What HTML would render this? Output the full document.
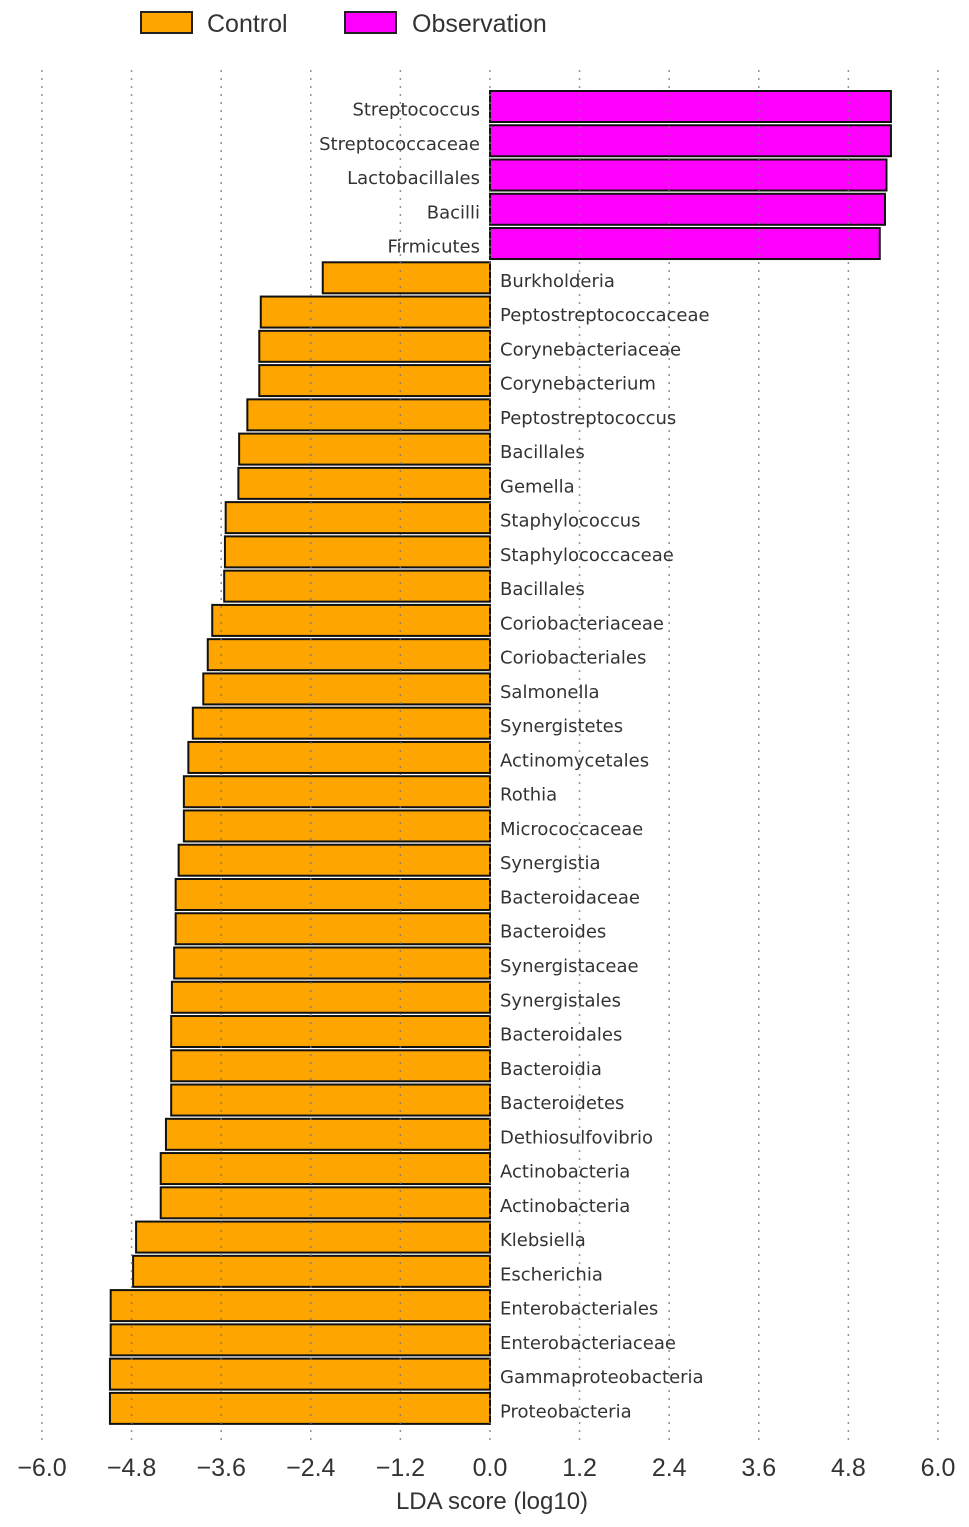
<!DOCTYPE html>
<html><head><meta charset="utf-8"><style>
body{margin:0;background:#fff;}
svg{display:block;}
</style></head><body>
<svg id="chart" width="969" height="1527" viewBox="0 0 969 1527" xmlns="http://www.w3.org/2000/svg">
<g id="legend">
<g>
<rect x="141" y="12" width="51" height="21" fill="#ffa500" stroke="#222" stroke-width="2"/>
<text x="207" y="32" font-family="Liberation Sans, sans-serif" font-size="25" fill="#333">Control</text></g>
<g>
<rect x="345" y="12" width="51" height="21" fill="#ff00ff" stroke="#222" stroke-width="2"/>
<text x="412" y="32" font-family="Liberation Sans, sans-serif" font-size="25" fill="#333">Observation</text></g>
</g>
<g id="bars"></g>
<g id="grid"></g>
<g id="labels"></g>
<g id="xaxis"></g>
<text x="492" y="1509" text-anchor="middle" font-family="Liberation Sans, sans-serif" font-size="24" fill="#333">LDA score (log10)</text>
</svg>
<script>
const categories=["Streptococcus","Streptococcaceae","Lactobacillales","Bacilli","Firmicutes","Burkholderia","Peptostreptococcaceae","Corynebacteriaceae","Corynebacterium","Peptostreptococcus","Bacillales","Gemella","Staphylococcus","Staphylococcaceae","Bacillales","Coriobacteriaceae","Coriobacteriales","Salmonella","Synergistetes","Actinomycetales","Rothia","Micrococcaceae","Synergistia","Bacteroidaceae","Bacteroides","Synergistaceae","Synergistales","Bacteroidales","Bacteroidia","Bacteroidetes","Dethiosulfovibrio","Actinobacteria","Actinobacteria","Klebsiella","Escherichia","Enterobacteriales","Enterobacteriaceae","Gammaproteobacteria","Proteobacteria"];
const ldaValues=[5.37,5.37,5.31,5.29,5.22,-2.24,-3.07,-3.09,-3.09,-3.25,-3.36,-3.37,-3.54,-3.55,-3.56,-3.72,-3.78,-3.84,-3.98,-4.04,-4.10,-4.10,-4.17,-4.21,-4.21,-4.23,-4.26,-4.27,-4.27,-4.27,-4.34,-4.41,-4.41,-4.74,-4.78,-5.08,-5.08,-5.09,-5.09];
const tickValues=[-6,-4.8,-3.6,-2.4,-1.2,0,1.2,2.4,3.6,4.8,6];
const tickLabels=["\u22126.0","\u22124.8","\u22123.6","\u22122.4","\u22121.2","0.0","1.2","2.4","3.6","4.8","6.0"];
const NS="http://www.w3.org/2000/svg";
const x=v=>490+v*(448/6);
const yc=i=>106.5+i*34.26;
const bh=31;
const bars=document.getElementById('bars'),labels=document.getElementById('labels'),grid=document.getElementById('grid'),xa=document.getElementById('xaxis');
function mk(t,a){const e=document.createElementNS(NS,t);for(const k in a)e.setAttribute(k,a[k]);return e;}
categories.forEach((c,i)=>{
const v=ldaValues[i];
const r=mk('rect',{x:Math.min(x(0),x(v)),y:yc(i)-bh/2,width:Math.abs(x(v)-x(0)),height:bh,fill:v>0?'#ff00ff':'#ffa500',stroke:'#111','stroke-width':2});


bars.appendChild(r);
const t=mk('text',{x:v>0?x(0)-10:x(0)+10,y:yc(i)+9,'text-anchor':v>0?'end':'start','font-family':'DejaVu Sans, sans-serif','font-size':18,fill:'#333'});
t.textContent=c;


labels.appendChild(t);
});
tickValues.forEach((v,i)=>{
const l=mk('line',{x1:x(v),x2:x(v),y1:70,y2:1440,stroke:'#777','stroke-width':1.5,'stroke-dasharray':'2,6','stroke-opacity':0.8});


grid.appendChild(l);
const t=mk('text',{x:x(v),y:1476,'text-anchor':'middle','font-family':'Liberation Sans, sans-serif','font-size':25,fill:'#333'});
t.textContent=tickLabels[i];


xa.appendChild(t);
});
</script>
</body></html>
